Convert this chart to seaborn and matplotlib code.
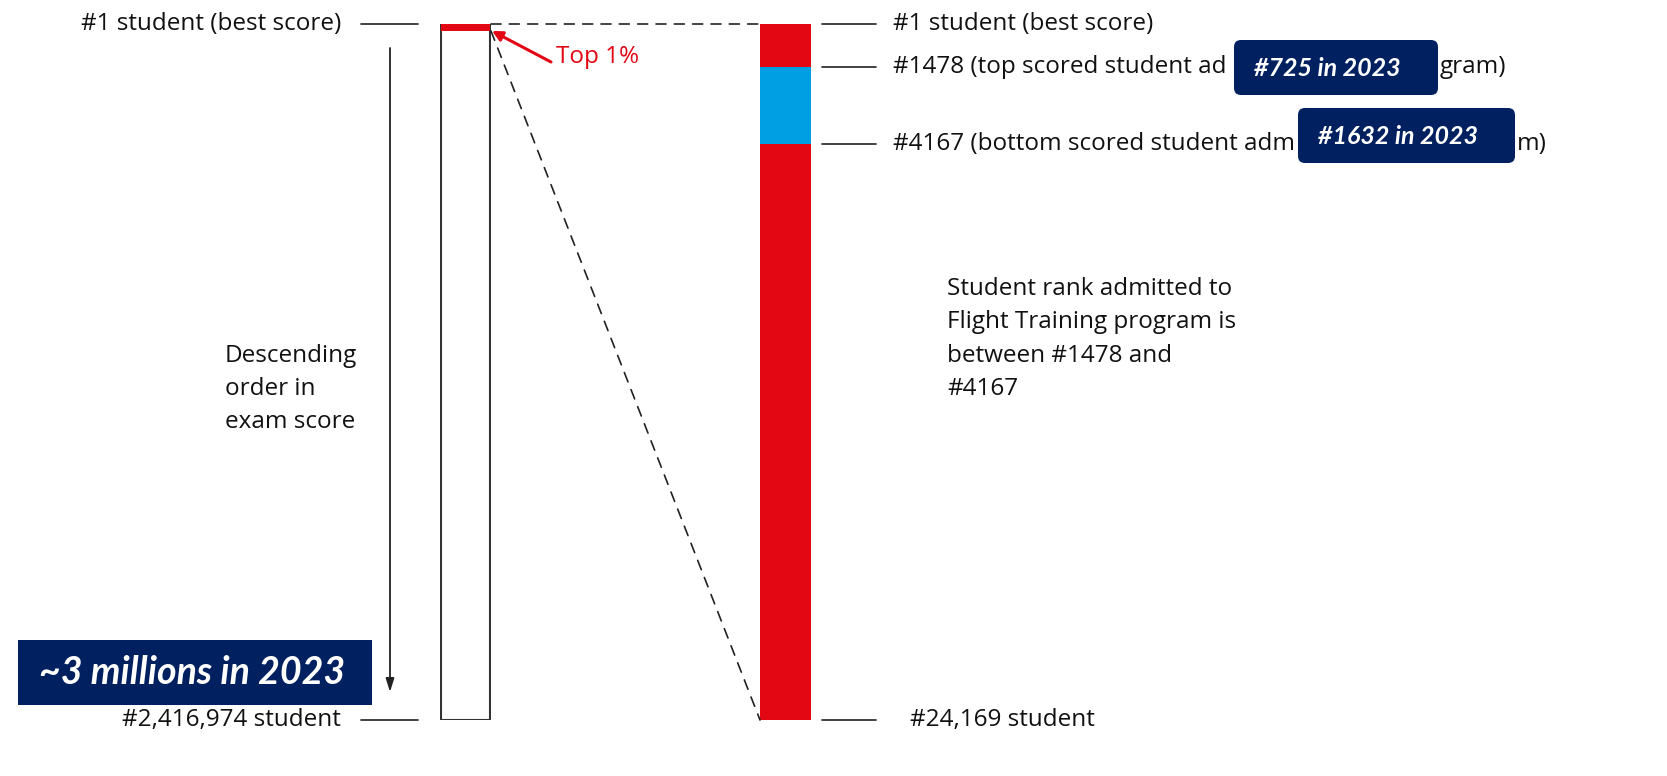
import matplotlib
matplotlib.use("Agg")
import matplotlib.pyplot as plt
import matplotlib.transforms as mtransforms
from matplotlib.patches import ConnectionPatch, FancyBboxPatch, Rectangle
import seaborn as sns

# ---------------- data ----------------
total_students = 2416974          # all exam takers
top_group = 24169                 # top 1 % of exam takers
admit_top = 1478                  # top-scored admitted student
admit_bottom = 4167               # bottom-scored admitted student
right_segments = [admit_top, admit_bottom - admit_top, top_group - admit_bottom]
right_colors = ["#E30613", "#009FE3", "#E30613"]
left_labels = ["#1 student (best score)", "#2,416,974 student"]
right_labels = ["#1 student (best score)",
                "#1478 (top scored student ad",
                "#4167 (bottom scored student adm",
                "#24,169 student"]
right_label_tails = ["", "gram)", "m)", ""]
note_2023 = ["#725 in 2023", "#1632 in 2023", "~3 millions in 2023"]

sns.set_theme(style="white")
plt.rcParams["font.family"] = ["Open Sans", "DejaVu Sans"]

W, H = 1667, 776
fig = plt.figure(figsize=(W / 100, H / 100), dpi=100)
pix = mtransforms.Affine2D().scale(1 / W, -1 / H).translate(0, 1) + fig.transFigure

top_px, bot_px = 24, 720
def bar_axes(x0, w):
    return fig.add_axes([x0 / W, (H - bot_px) / H, w / W, (bot_px - top_px) / H])

ax1 = bar_axes(440, 51)
ax2 = bar_axes(760, 51)
for ax in (ax1, ax2):
    ax.set_xlim(-0.5, 0.5)
    ax.axis("off")
ax1.set_ylim(total_students, 0)
ax2.set_ylim(top_group, 0)

# left bar: all students, top 1% highlighted
ax1.bar(0, total_students, width=0.97, color="white", edgecolor="#333333", linewidth=1.5)
ax1.bar(0, top_group, width=0.97, color="#E30613", edgecolor="none")

# right bar: top 1% zoomed
bottom = 0
for seg, col in zip(right_segments, right_colors):
    ax2.bar(0, seg, bottom=bottom, width=1.0, color=col, edgecolor="none")
    bottom += seg

fs = 17.5
tc = "#111111"
# left side labels + ticks
t1 = mtransforms.blended_transform_factory(pix, ax1.transData)
for lab, val in zip(left_labels, [1, total_students]):
    fig.add_artist(plt.Line2D([361, 418], [val, val], color="#333333", lw=1.3, transform=t1))
    fig.text(341, val, lab, transform=t1, ha="right", va="center", fontsize=fs, color=tc)

# right side labels + ticks
t2 = mtransforms.blended_transform_factory(pix, ax2.transData)
for lab, tail, val, xs, xt in zip(right_labels, right_label_tails,
                                  [1, admit_top, admit_bottom, top_group],
                                  [893, 893, 893, 910], [0, 1440, 1517, 0]):
    fig.add_artist(plt.Line2D([822, 876], [val, val], color="#333333", lw=1.3, transform=t2))
    fig.text(xs, val, lab, transform=t2, ha="left", va="center", fontsize=fs, color=tc)
    if tail:
        fig.text(xt, val, tail, transform=t2, ha="left", va="center", fontsize=fs, color=tc)

# dashed connectors
for ya, yb in [(0, 0), (top_group, top_group)]:
    con = ConnectionPatch(xyA=(0.5, ya), coordsA=ax1.transData,
                          xyB=(-0.5, yb), coordsB=ax2.transData,
                          color="#222222", lw=1.2, linestyle=(0, (6, 5)))
    fig.add_artist(con)

# Top 1% arrow
fig.add_artist(ConnectionPatch(xyA=(551, 62), coordsA=pix, xyB=(0.52, top_group), coordsB=ax1.transData,
                               arrowstyle="-|>,head_length=0.6,head_width=0.3", color="#E30613", lw=2.2))
fig.text(556, 57, "Top 1%", transform=pix, ha="left", va="center", fontsize=17.5, color="#E30613")

# descending arrow
fig.add_artist(ConnectionPatch(xyA=(390, 48), coordsA=pix, xyB=(390, 692), coordsB=pix,
                               arrowstyle="-|>,head_length=0.8,head_width=0.25", color="#222222", lw=1.3))
fig.text(225, 389, "Descending\norder in\nexam score", transform=pix, ha="left", va="center",
         fontsize=fs, color=tc, linespacing=1.52)

fig.text(947, 339, "Student rank admitted to\nFlight Training program is\nbetween #1478 and\n#4167",
         transform=pix, ha="left", va="center", fontsize=fs, color=tc, linespacing=1.52)

# navy annotation boxes
navy = "#002060"
for (x0, y0, w, h), txt, cx, cy in [((1234, 40, 204, 55), note_2023[0], 1327, 69),
                                     ((1298, 108, 217, 55), note_2023[1], 1398, 137)]:
    fig.add_artist(FancyBboxPatch((x0 + 7, y0 + 7), w - 14, h - 14, boxstyle="round,pad=7",
                                  transform=pix, facecolor=navy, edgecolor="none", zorder=5))
    fig.text(cx, cy, txt, transform=pix, ha="center", va="center", fontsize=18, zorder=6,
             fontweight="bold", fontstyle="italic", color="white", family=["Lato", "DejaVu Sans"])

fig.add_artist(Rectangle((18, 640), 354, 65, transform=pix, facecolor=navy, edgecolor="none", zorder=5))
fig.text(192, 673, note_2023[2], transform=pix, ha="center", va="center", fontsize=27, zorder=6,
         fontweight="bold", fontstyle="italic", color="white", family=["Lato", "DejaVu Sans"])

fig.savefig("out.png", dpi=100, facecolor="white")
